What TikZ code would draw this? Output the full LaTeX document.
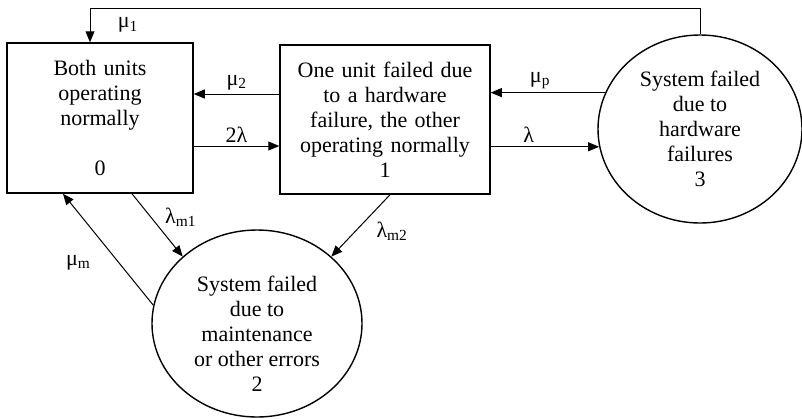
\documentclass[tikz,border=0pt]{standalone}
\usepackage{fontspec}
\setmainfont{Liberation Serif}
\usetikzlibrary{shapes,arrows.meta}
\tikzstyle{block} = [rectangle, draw, line width=1.5pt, text centered,
    inner sep=0pt]
\tikzstyle{cloud} = [draw, ellipse, line width=1.4pt, align=center,
    inner sep=-40pt]
\tikzstyle{line} = [draw, line width=1pt, -{Triangle[length=11pt,width=9pt]}]

\begin{document}
\begin{tikzpicture}[font=\fontsize{22}{25}\selectfont]
    \useasboundingbox (0,0) rectangle (802pt,-418pt);
    % Place nodes
    \node [block, text width=170pt, minimum width=186pt, minimum height=150pt]
        (zero) at (100pt,-118pt) {Both units\\operating\\normally\\[25pt]0};
    \node [block, text width=200pt, minimum width=210pt, minimum height=149pt,
        right of=zero, node distance=285pt, yshift=-1.5pt]
        (one) {One unit failed due\\to a hardware\\failure, the other\\operating normally\\1};
    \node [cloud, minimum width=204pt, minimum height=188pt,
        right of=one, node distance=315pt, yshift=-9.5pt]
        (three) {System failed\\due to\\hardware\\failures\\3};
    \node [cloud, minimum width=210pt, minimum height=187pt,
        below of=zero, node distance=205.5pt, xshift=157pt]
        (two) {\rule{0pt}{35pt}System failed\\due to\\maintenance\\or other errors\\2};
    \coordinate [yshift=26pt] (top) at (three.north);
    % Draw edges
    \path [line] (three.north) -- (top) -| node [pos=0.75, right=24pt] {μ\textsubscript{1}}
        ([xshift=-10pt]zero.north);
    \path [line] ([yshift=25.5pt]one.west) -- node [above] {μ\textsubscript{2}}
        ([yshift=25.5pt]one.west -| zero.east);
    \path [line] ([yshift=-28pt]zero.east) -- node [above] {2λ}
        ([yshift=-28pt]zero.east -| one.west);
    \path [line] (three.159) -- node [above, pos=0.57] {μ\textsubscript{p}} (three.159 -| one.east);
    \path [line] (three.190 -| one.east) -- node [above, pos=0.35] {λ} (three.190);
    \path [line] ([xshift=32pt]zero.south) -- node [right=4pt, yshift=8pt] {λ\textsubscript{m1}} (two.138);
    \path [line] ([xshift=5pt]one.south) -- node [right=12pt, yshift=-6pt] {λ\textsubscript{m2}} (two.42);
    \path [line] (two.170) -- node [below left, xshift=-14pt, yshift=-2pt] {μ\textsubscript{m}}
        ([xshift=-37pt]zero.south);
\end{tikzpicture}
\end{document}
